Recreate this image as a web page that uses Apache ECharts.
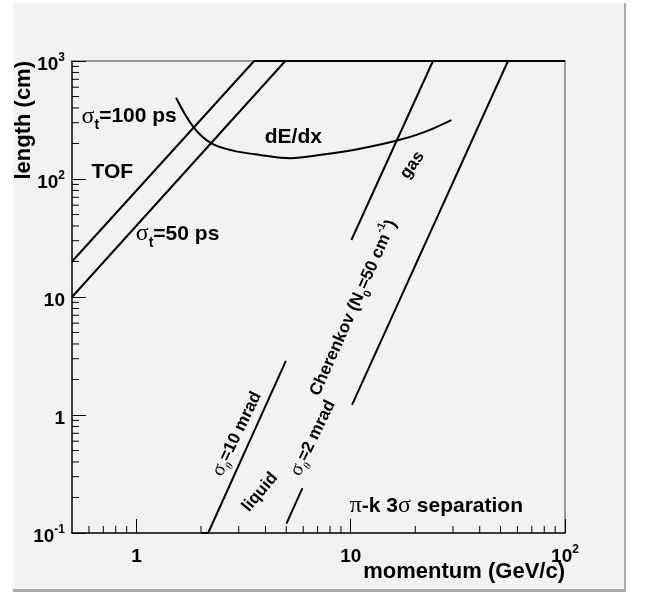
<!DOCTYPE html>
<html><head><meta charset="utf-8">
<script src="https://cdn.jsdelivr.net/npm/echarts@6/dist/echarts.min.js"></script>
<style>html,body{margin:0;padding:0;background:#fff;}#c{width:645px;height:593px;}</style>
</head><body><div id="c"></div>
<script>
// ---- data ----
const X_MIN = 0.5, X_MAX = 100, Y_MIN = 0.1, Y_MAX = 1000;
const tof100 = [[0.5, 20], [3.54, 1000], [100, 1000]];
const tof50 = [[0.5, 10], [4.95, 1000], [100, 1000]];
const dedx = [[1.53, 488], [1.84, 277], [2.24, 200], [2.82, 174], [3.76, 160], [5.2, 150], [7.43, 161], [10.6, 178], [16.3, 211], [21.7, 247], [29.5, 316]];
const gas10 = [[10.07, 30.4], [24.2, 1000], [100, 1000]];
const gas2 = [[10.14, 1.22], [54.2, 1000], [100, 1000]];
const liq10 = [[2.01, 0.1], [2.16, 0.1], [4.98, 2.88]];
const liq2 = [[5.01, 0.12], [5.95, 0.24]];
const xMinorTicks = [0.6, 0.7, 0.8, 0.9, 2, 3, 4, 5, 6, 7, 8, 9, 20, 30, 40, 50, 60, 70, 80, 90];
const yMinorTicks = [0.2, 0.3, 0.4, 0.5, 0.6, 0.7, 0.8, 0.9, 2, 3, 4, 5, 6, 7, 8, 9, 20, 30, 40, 50, 60, 70, 80, 90, 200, 300, 400, 500, 600, 700, 800, 900];
const xTickLabels = {'0': '{n|1}', '1': '{n|10}', '2': '{n|10}{sup|2}'};
const yTickLabels = {'-1': '{n|10}{sup|-1}', '0': '{n|1}', '1': '{n|10}', '2': '{n|10}{sup|2}', '3': '{n|10}{sup|3}'};
const xTitle = 'momentum (GeV/c)';
const yTitle = 'length (cm)';
const annotations = [
  {text: '{g|σ}{sub|t}{n|=100 ps}', at: [0.554, 338], rot: 0, align: 'left', size: 21},
  {text: '{n|TOF}', at: [0.617, 114.6], rot: 0, align: 'left', size: 21},
  {text: '{g|σ}{sub|t}{n|=50 ps}', at: [0.992, 34.2], rot: 0, align: 'left', size: 21},
  {text: '{n|dE/dx}', at: [3.97, 228], rot: 0, align: 'left', size: 21},
  {text: '{g|π}{n|-k 3}{g|σ}{n| separation}', at: [9.89, 0.170], rot: 0, align: 'left', size: 21},
  {text: '{n|gas}', at: [19.4, 131], rot: 55, align: 'center', size: 17},
  {text: '{n|Cherenkov (N}{sub|0}{n|=50 cm}{sup|-1}{n|)}', at: [10.3, 8.09], rot: 66, align: 'center', size: 17},
  {text: '{g|σ}{gsub|θ}{n|=10 mrad}', at: [2.95, 0.693], rot: 64, align: 'center', size: 17},
  {text: '{g|σ}{gsub|θ}{n|=2 mrad}', at: [6.67, 0.638], rot: 64, align: 'center', size: 17},
  {text: '{n|liquid}', at: [3.77, 0.2216], rot: 50, align: 'center', size: 17}
];

// ---- styling ----
const SANS = 'Liberation Sans', SERIF = 'Liberation Serif';
const MINOR_LEN = 7;
function richFor(fs) {
  const L = Math.round(fs * 1.5);
  const shift = Math.round(fs * 0.3);
  const s = Math.round(fs * 0.65);
  return {
    L: L,
    rich: {
      n: {fontFamily: SANS, fontWeight: 'bold', fontSize: fs, lineHeight: L, color: '#000'},
      g: {fontFamily: SERIF, fontWeight: 'normal', fontSize: fs + 3, lineHeight: L, color: '#000'},
      sub: {fontFamily: SANS, fontWeight: 'bold', fontSize: s, lineHeight: L - 2 * shift, verticalAlign: 'bottom', color: '#000'},
      gsub: {fontFamily: SERIF, fontStyle: 'italic', fontWeight: 'normal', fontSize: s, lineHeight: L - 2 * shift, verticalAlign: 'bottom', color: '#000'},
      sup: {fontFamily: SANS, fontWeight: 'bold', fontSize: s, lineHeight: L - 2 * shift, verticalAlign: 'top', color: '#000'}
    }
  };
}
function lineSeries(d, smooth) {
  return {type: 'line', data: d, showSymbol: false, symbol: 'none', smooth: smooth ? 0.35 : false, clip: false,
    lineStyle: {color: '#000', width: 2}, silent: true, z: 3, animation: false};
}
function decadeKey(v) {
  const e = Math.log10(v), r = Math.round(e);
  return Math.abs(e - r) < 1e-6 ? String(r) : null;
}
const tickLabelRich = {
  n: {fontFamily: SANS, fontWeight: 'bold', fontSize: 19, lineHeight: 26, color: '#000'},
  sup: {fontFamily: SANS, fontWeight: 'bold', fontSize: 12, lineHeight: 12, verticalAlign: 'top', color: '#000'}
};

const chart = echarts.init(document.getElementById('c'), null, {renderer: 'canvas'});
const option = {
  backgroundColor: '#f2f2f2',
  animation: false,
  grid: {left: 72, top: 61, right: 80, bottom: 60, containLabel: false},
  xAxis: [{
    type: 'log', logBase: 10, min: X_MIN, max: X_MAX, position: 'bottom',
    axisLine: {show: true, lineStyle: {color: '#000', width: 1.5}},
    axisTick: {show: true, inside: true, length: 14, lineStyle: {color: '#000', width: 1}},
    minorTick: {show: false}, splitLine: {show: false},
    axisLabel: {
      margin: 11, fontSize: 19, fontWeight: 'bold', fontFamily: SANS, color: '#000', lineHeight: 26,
      showMinLabel: false, rich: tickLabelRich,
      formatter: function (v) { const k = decadeKey(v); return k !== null && xTickLabels[k] ? xTickLabels[k] : ''; }
    }
  }, {
    type: 'log', logBase: 10, min: X_MIN, max: X_MAX, position: 'top',
    axisLine: {show: true, lineStyle: {color: '#7a7a7a', width: 1.5}},
    axisTick: {show: false}, axisLabel: {show: false}, splitLine: {show: false}
  }],
  yAxis: [{
    type: 'log', logBase: 10, min: Y_MIN, max: Y_MAX, position: 'left',
    axisLine: {show: true, lineStyle: {color: '#000', width: 1.5}},
    axisTick: {show: true, inside: true, length: 14, lineStyle: {color: '#000', width: 1}},
    minorTick: {show: false}, splitLine: {show: false},
    axisLabel: {
      margin: 7, fontSize: 19, fontWeight: 'bold', fontFamily: SANS, color: '#000', lineHeight: 26,
      padding: [7, 0, 0, 0], rich: tickLabelRich,
      formatter: function (v) { const k = decadeKey(v); return k !== null && yTickLabels[k] ? yTickLabels[k] : ''; }
    }
  }, {
    type: 'log', logBase: 10, min: Y_MIN, max: Y_MAX, position: 'right',
    axisLine: {show: true, lineStyle: {color: '#7a7a7a', width: 1.5}},
    axisTick: {show: false}, axisLabel: {show: false}, splitLine: {show: false}
  }],
  series: [
    lineSeries(tof100), lineSeries(tof50), lineSeries(dedx, true),
    lineSeries(gas10), lineSeries(gas2), lineSeries(liq10), lineSeries(liq2),
    {
      type: 'custom', silent: true, z: 2, clip: false,
      data: xMinorTicks.map(v => [v, Y_MIN]),
      encode: {x: 0, y: 1},
      renderItem: function (params, api) {
        const p = api.coord([api.value(0), api.value(1)]);
        return {type: 'line', shape: {x1: p[0], y1: p[1], x2: p[0], y2: p[1] - MINOR_LEN}, style: {stroke: '#000', lineWidth: 1}};
      }
    },
    {
      type: 'custom', silent: true, z: 2, clip: false,
      data: yMinorTicks.map(v => [X_MIN, v]),
      encode: {x: 0, y: 1},
      renderItem: function (params, api) {
        const p = api.coord([api.value(0), api.value(1)]);
        return {type: 'line', shape: {x1: p[0], y1: p[1], x2: p[0] + MINOR_LEN, y2: p[1]}, style: {stroke: '#000', lineWidth: 1}};
      }
    },
    {
      type: 'scatter', silent: true, z: 5, symbolSize: 1, itemStyle: {color: 'rgba(0,0,0,0)', opacity: 1},
      data: annotations.map(a => {
        const r = richFor(a.size);
        return {
          value: a.at,
          label: {
            show: true, position: 'inside', formatter: a.text, rotate: a.rot, align: a.align, verticalAlign: 'middle',
            fontFamily: SANS, fontWeight: 'bold', fontSize: a.size, lineHeight: r.L, color: '#000',
            opacity: 1, textBorderWidth: 0, rich: r.rich
          }
        };
      })
    }
  ]
};
chart.setOption(option);

const tr = chart.convertToPixel({gridIndex: 0}, [X_MAX, Y_MAX]);
const bl = chart.convertToPixel({gridIndex: 0}, [X_MIN, Y_MIN]);
chart.setOption({
  graphic: [
    {type: 'rect', silent: true, shape: {x: 0, y: 0, width: 13, height: 593}, style: {fill: '#ffffff'}},
    {type: 'rect', silent: true, shape: {x: 0, y: 0, width: 645, height: 3}, style: {fill: '#ffffff'}},
    {type: 'rect', silent: true, shape: {x: 626, y: 0, width: 19, height: 593}, style: {fill: '#ffffff'}},
    {type: 'rect', silent: true, shape: {x: 624, y: 3, width: 2, height: 589}, style: {fill: '#a9a9a9'}},
    {type: 'rect', silent: true, shape: {x: 13, y: 589, width: 613, height: 3}, style: {fill: '#a9a9a9'}},
    {type: 'rect', silent: true, shape: {x: 0, y: 592, width: 645, height: 1}, style: {fill: '#ffffff'}},
    {type: 'text', silent: true, x: tr[0], y: bl[1] + 39,
      style: {text: xTitle, font: 'bold 22px "Liberation Sans"', fill: '#000', align: 'right', textAlign: 'right', verticalAlign: 'middle', textVerticalAlign: 'middle'}},
    {type: 'text', silent: true, x: 24, y: tr[1], rotation: Math.PI / 2,
      style: {text: yTitle, font: 'bold 22px "Liberation Sans"', fill: '#000', align: 'right', textAlign: 'right', verticalAlign: 'middle', textVerticalAlign: 'middle'}}
  ]
});
</script></body></html>
